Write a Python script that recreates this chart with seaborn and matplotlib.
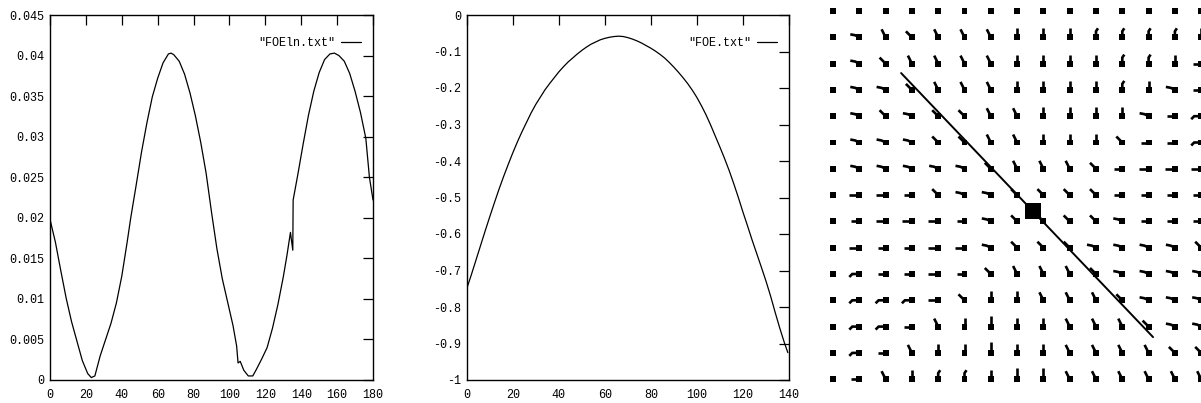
import numpy as np
import pandas as pd
import matplotlib
matplotlib.use("Agg")
import matplotlib.pyplot as plt
import seaborn as sns
from matplotlib.collections import LineCollection

# ---------------- data ----------------
foeln_x = [0, 3, 6, 9, 12, 15, 18, 21, 23, 25, 28, 31, 34, 37, 40, 43, 45, 48, 51, 54,
           57, 60, 63, 66, 67.5, 69, 72, 75, 78, 81, 84, 87, 90, 93, 96, 99, 102,
           104, 104.8, 106, 108, 110.5, 113, 115, 118, 121, 124, 127, 130, 132, 134,
           135.3, 135.5, 138, 141, 144, 147, 150, 153, 156, 158.5, 161, 164, 167, 170,
           173, 176, 178, 180]
foeln_y = [0.0198, 0.0170, 0.0135, 0.0101, 0.0072, 0.0048, 0.0024, 0.0008, 0.0003, 0.0005,
           0.0030, 0.0050, 0.0070, 0.0095, 0.0128, 0.0170, 0.0200, 0.0240, 0.0281, 0.0317,
           0.0349, 0.0372, 0.0391, 0.0402, 0.0403, 0.0401, 0.0393, 0.0377, 0.0354, 0.0326,
           0.0293, 0.0255, 0.0207, 0.0162, 0.0125, 0.0096, 0.0067, 0.0042, 0.0021,
           0.0023, 0.0012, 0.0005, 0.0005, 0.0013, 0.0026, 0.0040, 0.0064, 0.0093, 0.0127,
           0.0153, 0.0182, 0.0160, 0.0222, 0.0252, 0.0290, 0.0326, 0.0356, 0.0379, 0.0395,
           0.0402, 0.0403, 0.0400, 0.0393, 0.0378, 0.0356, 0.0330, 0.0298, 0.0250, 0.0222]

foe_x = [0, 2, 4, 6, 8, 10, 12, 14, 16, 18, 20, 22, 24, 26, 28, 30, 32, 34, 36, 38, 40,
         42, 44, 46, 48, 50, 52, 54, 56, 58, 60, 62, 64, 66, 68, 70, 72, 74, 76, 78, 80,
         82, 84, 86, 88, 90, 92, 94, 96, 98, 100, 102, 104, 106, 108, 110, 112, 114,
         116, 118, 120, 122, 124, 126, 128, 130, 132, 134, 136, 138, 139.5]
foe_y = [-0.750, -0.712, -0.672, -0.632, -0.592, -0.553, -0.515, -0.478, -0.443, -0.410,
         -0.378, -0.348, -0.320, -0.294, -0.268, -0.245, -0.225, -0.205, -0.188, -0.172,
         -0.156, -0.142, -0.129, -0.118, -0.107, -0.097, -0.088, -0.080, -0.074, -0.068,
         -0.064, -0.061, -0.059, -0.058, -0.059, -0.062, -0.066, -0.071, -0.077, -0.084,
         -0.091, -0.099, -0.108, -0.118, -0.130, -0.143, -0.157, -0.172, -0.188, -0.206,
         -0.226, -0.249, -0.274, -0.302, -0.332, -0.362, -0.393, -0.426, -0.462, -0.500,
         -0.540, -0.578, -0.617, -0.654, -0.691, -0.729, -0.770, -0.815, -0.858, -0.898,
         -0.925]

ln_label = '"FOEln.txt"'
foe_label = '"FOE.txt"'

ln_xticks = [0, 20, 40, 60, 80, 100, 120, 140, 160, 180]
ln_yticks = [0, 0.005, 0.01, 0.015, 0.02, 0.025, 0.03, 0.035, 0.04, 0.045]
ln_yticklabels = ["0", "0.005", "0.01", "0.015", "0.02", "0.025", "0.03", "0.035",
                  "0.04", "0.045"]
foe_xticks = [0, 20, 40, 60, 80, 100, 120, 140]
foe_yticks = [0, -0.1, -0.2, -0.3, -0.4, -0.5, -0.6, -0.7, -0.8, -0.9, -1]
foe_yticklabels = ["0", "-0.1", "-0.2", "-0.3", "-0.4", "-0.5", "-0.6", "-0.7",
                   "-0.8", "-0.9", "-1"]

# flow field: one code per grid cell (row by row)
flow_rows = [
    "...............",
    ".dsDsssvvvccccv",
    ".dDssssvvvvccvh",
    ".ddDsssvvvvcvdh",
    ".dDdDDssvvvvdha",
    ".dddDDssvvvDhha",
    ".dddddDsssDhHHH",
    ".HHhDddDDDDhhhh",
    ".hHHHhdDDDDdhhh",
    ".HhhHHdDDDddddD",
    ".ahhHhDsssDdddd",
    ".aaaHDvvsssDddd",
    ".aahsvVvvsssDdd",
    ".ahsvvVvvssssDD",
    ".hsvccvVVssssss",
]
foe_point_col = [7.62]
foe_point_row = [7.59]
foe_line_col = [2.59, 12.17]
foe_line_row = [2.36, 12.40]

# ---------------- style ----------------
sns.set_theme(style="white")
plt.rcParams['font.family'] = ['Liberation Mono', 'DejaVu Sans Mono']
plt.rcParams['axes.unicode_minus'] = False

W, H = 1201, 403
fig = plt.figure(figsize=(W / 100, H / 100), dpi=100)
fig.patch.set_facecolor("white")

def px_axes(x0, x1, ytop, ybot):
    return fig.add_axes([x0 / W, (H - ybot) / H, (x1 - x0) / W, (ybot - ytop) / H])

FS = 8.5

def style_axes(ax):
    ax.set_facecolor("white")
    for s in ax.spines.values():
        s.set_visible(True)
        s.set_color("black")
        s.set_linewidth(1.0)
    ax.tick_params(direction="in", length=7.2, width=0.9, colors="black",
                   top=True, right=True, labeltop=False, labelright=False,
                   labelsize=FS)
    ax.tick_params(axis="x", pad=6.5)
    ax.tick_params(axis="y", pad=4.2)
    ax.grid(False)
    ax.set_xlabel("")
    ax.set_ylabel("")

def style_legend(ax):
    leg = ax.legend(loc="upper right", bbox_to_anchor=(0.962, 0.94), frameon=False,
                    markerfirst=False, fontsize=FS, handlelength=1.7,
                    handletextpad=0.5, borderpad=0, borderaxespad=0)
    for t in leg.get_texts():
        t.set_color("black")

# ---- left panel ----
ax1 = px_axes(50, 373, 15, 380)
df1 = pd.DataFrame({"x": foeln_x, "y": foeln_y})
sns.lineplot(data=df1, x="x", y="y", ax=ax1, color="black", linewidth=0.9,
             label=ln_label, sort=False)
ax1.set_xlim(0, 180)
ax1.set_ylim(0, 0.045)
ax1.set_xticks(ln_xticks)
ax1.set_xticklabels([str(v) for v in ln_xticks])
ax1.set_yticks(ln_yticks)
ax1.set_yticklabels(ln_yticklabels)
style_axes(ax1)
style_legend(ax1)

# ---- middle panel ----
ax2 = px_axes(466.7, 789, 15, 380)
df2 = pd.DataFrame({"x": foe_x, "y": foe_y})
sns.lineplot(data=df2, x="x", y="y", ax=ax2, color="black", linewidth=0.9,
             label=foe_label, sort=False)
ax2.set_xlim(0, 140)
ax2.set_ylim(-1, 0)
ax2.set_xticks(foe_xticks)
ax2.set_xticklabels([str(v) for v in foe_xticks])
ax2.set_yticks(foe_yticks)
ax2.set_yticklabels(foe_yticklabels)
style_axes(ax2)
style_legend(ax2)

# ---- right panel: flow field ----
GX0, GY0, GS = 833.0, 11.0, 26.3
ax3 = px_axes(815, 1201, 0, 403)

# tail shapes in pixel offsets from the dot (y down)
shapes = {
    ".": [],
    "d": [(0, 0), (-4, -2), (-9, -3)],
    "D": [(0, 0), (-6, -6)],
    "s": [(0, 0), (-4, -8)],
    "v": [(0, 0), (0, -9)],
    "V": [(0, 0), (0, -11)],
    "h": [(0, 0), (-8, 0)],
    "H": [(0, 0), (-10, 0)],
    "a": [(0, 0), (-7, 0), (-10, 3)],
    "c": [(0, 0), (0, -6), (2, -9)],
}
segs, dcols, drows = [], [], []
for r, row in enumerate(flow_rows):
    for c, code in enumerate(row):
        dcols.append(c)
        drows.append(r)
        pts = shapes[code]
        if pts:
            segs.append([(c + dx / GS, r + dy / GS) for dx, dy in pts])
lc = LineCollection(segs, colors="black", linewidths=1.9, capstyle="butt",
                    joinstyle="miter")
ax3.add_collection(lc)
dfd = pd.DataFrame({"col": dcols, "row": drows})
sns.scatterplot(data=dfd, x="col", y="row", ax=ax3, marker="s", s=18,
                color="black", edgecolor="none", linewidth=0)
sns.lineplot(x=foe_line_col, y=foe_line_row, ax=ax3, color="black", linewidth=1.4,
             sort=False)
sns.scatterplot(x=foe_point_col, y=foe_point_row, ax=ax3, marker="s", s=130,
                color="black", edgecolor="none", linewidth=0)
ax3.set_xlim((815 - GX0) / GS, (1201 - GX0) / GS)
ax3.set_ylim((403 - GY0) / GS, (0 - GY0) / GS)
ax3.axis("off")

fig.savefig("out.png", dpi=100, facecolor="white")
